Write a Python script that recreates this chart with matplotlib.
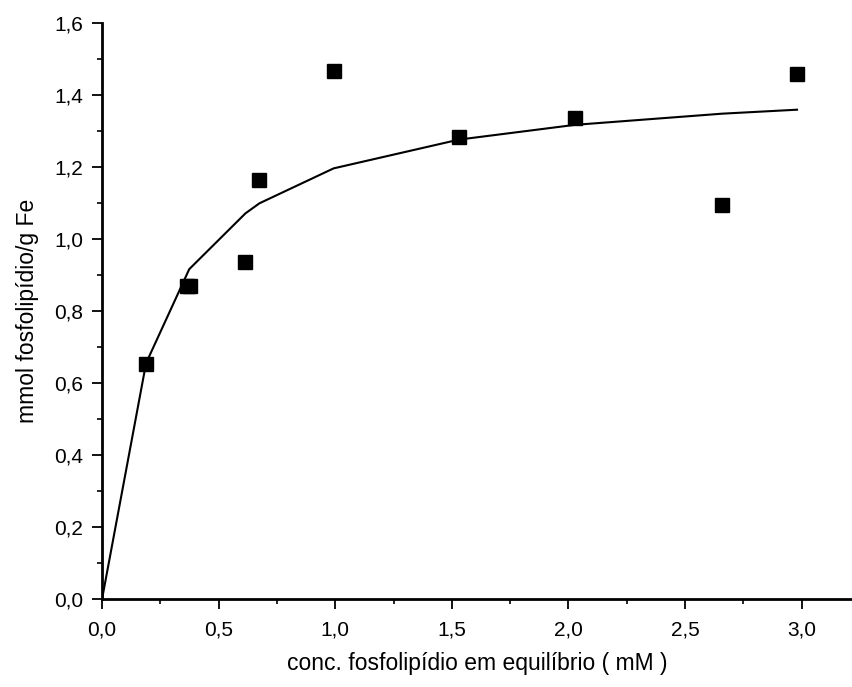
import numpy as np
import matplotlib
matplotlib.use("Agg")
from matplotlib import pyplot as plt
from matplotlib.ticker import MultipleLocator

plt.rcParams['font.family'] = ['Liberation Sans', 'DejaVu Sans']

# dados experimentais (pontos)
conc = [0.189, 0.366, 0.378, 0.615, 0.675, 0.993, 1.531, 2.029, 2.660, 2.980]
ads = [0.655, 0.869, 0.869, 0.936, 1.165, 1.467, 1.283, 1.338, 1.095, 1.460]

# curva ajustada
conc_fit = [0.0, 0.189, 0.374, 0.615, 0.675, 0.993, 1.531, 2.029, 2.660, 2.980]
ads_fit = [0.0, 0.656, 0.917, 1.072, 1.100, 1.197, 1.277, 1.318, 1.349, 1.360]

xticks = [0.0, 0.5, 1.0, 1.5, 2.0, 2.5, 3.0]
xticklabels = ["0,0", "0,5", "1,0", "1,5", "2,0", "2,5", "3,0"]
yticks = [0.0, 0.2, 0.4, 0.6, 0.8, 1.0, 1.2, 1.4, 1.6]
yticklabels = ["0,0", "0,2", "0,4", "0,6", "0,8", "1,0", "1,2", "1,4", "1,6"]

fig = plt.figure(figsize=(8.53, 6.87), dpi=100)
ax = fig.add_axes([102 / 853, 87.7 / 687, 751 / 853, 576 / 687])

ax.plot(conc_fit, ads_fit, color="black", lw=1.5, zorder=2)
ax.plot(conc, ads, ls="none", marker="s", ms=9.5, color="black", zorder=3)

ax.set_xlim(0, 3.22)
ax.set_ylim(0, 1.6)

ax.set_xticks(xticks)
ax.set_xticklabels(xticklabels)
ax.set_yticks(yticks)
ax.set_yticklabels(yticklabels)
ax.xaxis.set_minor_locator(MultipleLocator(0.25))
ax.yaxis.set_minor_locator(MultipleLocator(0.1))

ax.spines["top"].set_visible(False)
ax.spines["right"].set_visible(False)
ax.spines["left"].set_linewidth(2)
ax.spines["bottom"].set_linewidth(2)
ax.spines["left"].set_clip_on(False)
ax.spines["bottom"].set_clip_on(False)

ax.tick_params(which="major", direction="out", length=7.5, width=1.3, labelsize=15)
ax.tick_params(which="minor", direction="out", length=3.8, width=1.2)
ax.tick_params(axis="x", which="major", pad=8)
ax.tick_params(axis="y", which="major", pad=6)

ax.set_xlabel("conc. fosfolipídio em equilíbrio ( mM )", fontsize=16.5, labelpad=9)
ax.set_ylabel("mmol fosfolipídio/g Fe", fontsize=16.5, labelpad=11)

fig.savefig("out.png", dpi=100)
